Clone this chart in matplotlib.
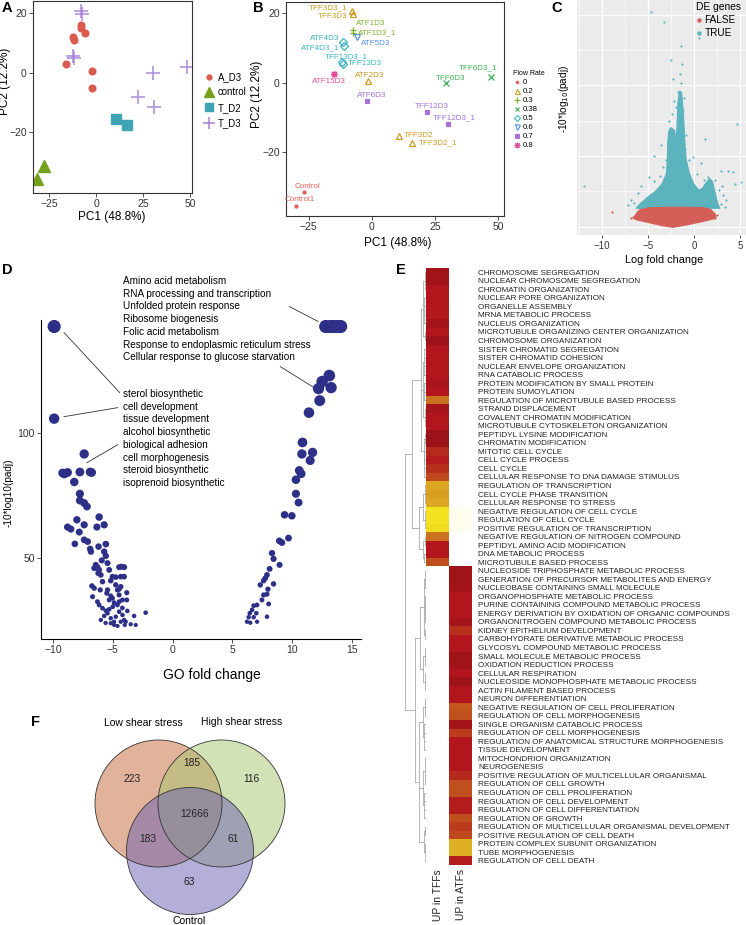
import numpy as np
import matplotlib.pyplot as plt
from matplotlib.colors import LinearSegmentedColormap
from matplotlib.lines import Line2D
from matplotlib.patches import Circle, Polygon

plt.rcParams['font.family'] = ['Liberation Sans', 'DejaVu Sans']

W, H = 746, 925
fig = plt.figure(figsize=(W / 100, H / 100), dpi=100)


def px_axes(x0, y0, x1, y1):
    return fig.add_axes([x0 / W, 1 - y1 / H, (x1 - x0) / W, (y1 - y0) / H])


# ---------------- data: panel A (PCA by group) ----------------
a_d3_pc1 = [-7.9, -7.9, -6.1, -12.2, -11.7, -15.7, -2.0, -2.2]
a_d3_pc2 = [15.9, 14.8, 13.2, 12.1, 10.8, 2.8, 0.6, -5.0]
control_pc1 = [-27.4, -31.5]
control_pc2 = [-31.3, -35.6]
t_d2_pc1 = [10.7, 16.3]
t_d2_pc2 = [-15.6, -17.6]
t_d3_pc1 = [-7.9, -7.6, -12.2, -11.7, 30.2, 48.5, 22.4, 30.9]
t_d3_pc2 = [20.6, 19.7, 5.6, 5.0, 0.0, 2.0, -8.3, -11.4]

# ---------------- data: panel B (PCA by sample) ----------------
samples = ['TFF3D3_1', 'TFF3D3', 'ATF1D3', 'ATF1D3_1', 'ATF5D3', 'ATF4D3', 'ATF4D3_1',
           'TFF13D3_1', 'TFF13D3', 'ATF15D3', 'ATF2D3', 'ATF6D3', 'TFF6D3', 'TFF6D3_1',
           'TFF12D3', 'TFF12D3_1', 'TFF3D2', 'TFF3D2_1', 'Control', 'Control1']
sample_pc1 = [-7.8, -7.6, -7.5, -7.5, -5.7, -11.3, -10.8, -11.7, -11.3, -14.9, -1.6, -1.8,
              29.4, 47.0, 22.0, 30.2, 10.8, 15.8, -26.8, -30.0]
sample_pc2 = [20.6, 19.7, 15.2, 14.2, 13.0, 11.8, 10.4, 6.0, 5.3, 2.5, 0.5, -5.2,
              -0.2, 1.7, -8.4, -11.9, -15.5, -17.5, -31.5, -35.5]
sample_flow = [0.2, 0.2, 0.3, 0.3, 0.6, 0.5, 0.5, 0.5, 0.5, 0.8, 0.2, 0.7,
               0.38, 0.38, 0.7, 0.7, 0.2, 0.2, 0, 0]
flow_levels = [0, 0.2, 0.3, 0.38, 0.5, 0.6, 0.7, 0.8]
# label placement: (ha, dx px, dy px)
label_place = [('right', -5, 3), ('right', -5, -2), ('left', 3, 6), ('left', 5, 1),
               ('left', 4, -6), ('right', -4, 3), ('right', -5, -1), ('center', 4, 5),
               ('left', 5, 1), ('center', -5, -8), ('center', 2, 5), ('center', 4, 5),
               ('center', 4, 5), ('center', -13, 9), ('center', 4, 5), ('center', 6, 6),
               ('left', 5, 1), ('left', 7, 1), ('center', 4, 6), ('center', 4, 6)]

# ---------------- data: panel C (volcano) ----------------
false_cloud_x = [-6.6, -6.2, -5.9, -5.0, -3.0, -1.0, 1.0, 1.8, 2.3, 2.4, 1.5, 0.5,
                 -1.0, -2.3, -3.5, -5.0, -6.2]
false_cloud_y = [12, 20, 24, 26.5, 27.5, 27.5, 27, 24.5, 18, 12, 9, 6, 2, -1, 1.5, 6, 9.5]
true_cloud_x = [-6.3, -5.8, -5.0, -4.2, -3.5, -3.0, -2.9, -2.85, -2.75, -2.5, -2.1, -2.0,
                -1.85, -1.75, -1.6, -1.35, -1.15, -1.0, -0.85, -0.5, 0.0, 0.5, 0.9, 1.3,
                1.7, 2.0, 2.3, 2.6, 2.8]
true_cloud_y = [26, 33, 42, 50, 60, 75, 95, 120, 135, 140, 136, 120, 140, 175, 192, 190,
                160, 120, 95, 75, 60, 52, 54, 62, 68, 64, 48, 32, 26]
true_x = [-4.67, -3.27, -1.43, 0.59, -2.46, -2.28, -1.47, -1.43, 4.7, 1.21, -3.57, -4.38,
          -0.07, 2.9, 3.68, 4.2, -11.95, 5.15, 4.4, -6.1, -5.8, -4.3, -1.9, -1.6, -1.2,
          -2.0, -1.75, -2.6, -0.9, -1.0, -3.1, -3.4, -0.5, 0.8, 1.5, 2.3, 2.7, 3.2, 3.5,
          2.9, -5.2, -6.5, -4.9, -3.7, 1.9, -2.7, -2.4, -1.35, 0.3, 1.1, -6.9, -7.2,
          3.0, 3.4, -2.2, -1.1]
true_y = [304, 289, 256, 267, 236, 209, 216, 204, 146, 124, 115, 100, 99, 79, 79, 78,
          57, 63, 61, 48, 57, 64, 150, 160, 165, 170, 190, 140, 130, 110, 95, 84, 95,
          90, 70, 66, 52, 45, 38, 32, 40, 34, 70, 72, 45, 150, 160, 230, 75, 66, 38, 30,
          58, 28, 178, 182]
false_x = [-8.9, -6.8, -6.6, 2.5, 2.3]
false_y = [21.2, 12, 14, 16, 12]

# ---------------- data: panel D (GO fold change) ----------------
go_fc = [12.8, 13.2, 13.5, 13.8, 14.05, 13.1, 12.5, 12.2, 13.25, 12.3, 11.4,
         10.86, 10.81, 11.7, 11.5, 10.59, 10.75, 10.31, 10.31, 10.53, 9.36, 9.97, 8.92,
         9.14, 9.69, 8.31, 8.44, 8.94, 8.11, 7.89, 7.75, 7.61, 7.33, 8.44, 7.97, 7.61,
         7.89, 7.47, 8.03, 7.06, 6.78, 6.64, 6.45, 6.36, 6.22, 6.5, 7.06, 6.78, 7.89, 7.0,
         -9.9, -9.9, -7.39, -9.19, -8.78, -9.05, -7.75, -6.89, -6.77, -8.22, -7.75, -7.75,
         -7.39, -7.16, -6.14, -8.0, -8.78, -8.5, -7.39, -7.8, -6.33, -5.72, -7.39, -8.17,
         -6.89, -6.19, -5.58, -7.1, -5.72, -6.83, -5.58, -5.92, -5.44, -6.42, -6.28, -6.55,
         -6.14, -5.3, -4.47, -4.05, -4.28, -6.22, -6.0, -5.03, -4.75, -4.33, -4.05, -5.86,
         -5.17, -4.75, -6.75, -6.55, -6.05, -4.33, -4.47, -5.44, -4.61, -3.83, -5.5, -6.69,
         -5.17, -5.03, -4.47, -6.28, -6.14, -5.86, -5.58, -5.3, -4.89, -4.61, -4.47, -4.19,
         -3.83, -5.44, -5.72, -5.17, -4.89, -6.0, -4.47, -4.19, -4.05, -3.92, -4.33, -4.75,
         -3.78, -3.22, -3.08, -2.25, -4.89, -5.17, -4.0, -5.0, -5.3, -4.2, -5.6, -4.6, -3.5]
go_score = [142.4, 142.4, 142.4, 142.4, 142.4, 122.8, 120.4, 117.6, 118, 112.8, 108,
            96.1, 91.5, 92.1, 88.9, 84.9, 83.6, 81.2, 75.6, 72.1, 67.2, 66.8, 56.8,
            56.1, 57.9, 51.9, 49.6, 47.2, 45.6, 43.2, 41.9, 40.9, 39.2, 39.6, 37.5, 35.2,
            35.5, 33.2, 31.6, 31.2, 30.9, 29.2, 27.9, 26.3, 24.5, 24.1, 24.5, 26.3, 26.5, 27.9,
            142.4, 105.6, 91.5, 83.9, 84.1, 83.5, 84.3, 84.3, 84.1, 80.3, 75.6, 72.9,
            71.9, 70.5, 66.3, 65.2, 62.3, 61.5, 63.2, 60.3, 62.3, 63.2, 57.2, 55.6,
            53.6, 54.5, 55.5, 56.5, 52.5, 52.5, 50.8, 49.0, 47.9, 47.2, 46.3, 45.9,
            45.2, 45.2, 46.3, 46.3, 46.5, 43.9, 43.2, 42.5, 42.3, 42.5, 42.5, 40.5,
            40.9, 39.2, 38.8, 37.9, 37.2, 38.5, 37.5, 37.2, 37.2, 36.1, 35.9, 34.5,
            34.8, 33.9, 35.2, 32.5, 31.2, 29.9, 28.9, 33.2, 32.1, 31.2, 32.5, 33.2,
            33.2, 27.9, 26.8, 25.9, 24.5, 25.2, 28.5, 27.2, 25.2, 24.5, 24.5, 26.5,
            28.8, 26.8, 23.2, 28.1, 23.2, 23.9, 23.2, 30.5, 29.5, 30.0, 24.0, 22.8, 23.5]
up_terms = ['Amino acid metabolism', 'RNA processing and transcription',
            'Unfolded protein response', 'Ribosome biogenesis', 'Folic acid metabolism',
            'Response to endoplasmic reticulum stress',
            'Cellular response to glucose starvation']
down_terms = ['sterol biosynthetic', 'cell development', 'tissue development',
              'alcohol biosynthetic', 'biological adhesion', 'cell morphogenesis',
              'steroid biosynthetic', 'isoprenoid biosynthetic']

# ---------------- data: panel E (GO heatmap) ----------------
go_terms = [
    'CHROMOSOME SEGREGATION', 'NUCLEAR CHROMOSOME SEGREGATION', 'CHROMATIN ORGANIZATION',
    'NUCLEAR PORE ORGANIZATION', 'ORGANELLE ASSEMBLY', 'MRNA METABOLIC PROCESS',
    'NUCLEUS ORGANIZATION', 'MICROTUBULE ORGANIZING CENTER ORGANIZATION',
    'CHROMOSOME ORGANIZATION', 'SISTER CHROMATID SEGREGATION', 'SISTER CHROMATID COHESION',
    'NUCLEAR ENVELOPE ORGANIZATION', 'RNA CATABOLIC PROCESS',
    'PROTEIN MODIFICATION BY SMALL PROTEIN', 'PROTEIN SUMOYLATION',
    'REGULATION OF MICROTUBULE BASED PROCESS', 'STRAND DISPLACEMENT',
    'COVALENT CHROMATIN MODIFICATION', 'MICROTUBULE CYTOSKELETON ORGANIZATION',
    'PEPTIDYL LYSINE MODIFICATION', 'CHROMATIN MODIFICATION', 'MITOTIC CELL CYCLE',
    'CELL CYCLE PROCESS', 'CELL CYCLE', 'CELLULAR RESPONSE TO DNA DAMAGE STIMULUS',
    'REGULATION OF TRANSCRIPTION', 'CELL CYCLE PHASE TRANSITION',
    'CELLULAR RESPONSE TO STRESS', 'NEGATIVE REGULATION OF CELL CYCLE',
    'REGULATION OF CELL CYCLE', 'POSITIVE REGULATION OF TRANSCRIPTION',
    'NEGATIVE REGULATION OF NITROGEN COMPOUND', 'PEPTIDYL AMINO ACID MODIFICATION',
    'DNA METABOLIC PROCESS', 'MICROTUBULE BASED PROCESS',
    'NUCLEOSIDE TRIPHOSPHATE METABOLIC PROCESS',
    'GENERATION OF PRECURSOR METABOLITES AND ENERGY', 'NUCLEOBASE CONTAINING SMALL MOLECULE',
    'ORGANOPHOSPHATE METABOLIC PROCESS', 'PURINE CONTAINING COMPOUND METABOLIC PROCESS',
    'ENERGY DERIVATION BY OXIDATION OF ORGANIC COMPOUNDS',
    'ORGANONITROGEN COMPOUND METABOLIC PROCESS', 'KIDNEY EPITHELIUM DEVELOPMENT',
    'CARBOHYDRATE DERIVATIVE METABOLIC PROCESS', 'GLYCOSYL COMPOUND METABOLIC PROCESS',
    'SMALL MOLECULE METABOLIC PROCESS', 'OXIDATION REDUCTION PROCESS', 'CELLULAR RESPIRATION',
    'NUCLEOSIDE MONOPHOSPHATE METABOLIC PROCESS', 'ACTIN FILAMENT BASED PROCESS',
    'NEURON DIFFERENTIATION', 'NEGATIVE REGULATION OF CELL PROLIFERATION',
    'REGULATION OF CELL MORPHOGENESIS', 'SINGLE ORGANISM CATABOLIC PROCESS',
    'REGULATION OF CELL MORPHOGENESIS', 'REGULATION OF ANATOMICAL STRUCTURE MORPHOGENESIS',
    'TISSUE DEVELOPMENT', 'MITOCHONDRION ORGANIZATION', 'NEUROGENESIS',
    'POSITIVE REGULATION OF MULTICELLULAR ORGANISMAL', 'REGULATION OF CELL GROWTH',
    'REGULATION OF CELL PROLIFERATION', 'REGULATION OF CELL DEVELOPMENT',
    'REGULATION OF CELL DIFFERENTIATION', 'REGULATION OF GROWTH',
    'REGULATION OF MULTICELLULAR ORGANISMAL DEVELOPMENT', 'POSITIVE REGULATION OF CELL DEATH',
    'PROTEIN COMPLEX SUBUNIT ORGANIZATION', 'TUBE MORPHOGENESIS', 'REGULATION OF CELL DEATH']
nan = np.nan
up_in_tffs = [0.95, 0.95, 0.88, 0.88, 0.88, 0.87, 0.93, 0.88, 0.96, 0.88, 0.88, 0.88,
              0.88, 0.92, 0.88, 0.6, 0.93, 0.88, 0.88, 0.97, 0.97, 0.82, 0.86, 0.8, 0.72,
              0.42, 0.45, 0.42, 0.18, 0.18, 0.22, 0.6, 0.88, 0.88, 0.7] + [nan] * 35
up_in_atfs = [nan] * 28 + [0.0, 0.0, 0.0] + [nan] * 4 + [
    0.95, 0.95, 0.93, 0.88, 0.88, 0.88, 0.93, 0.8, 0.88, 0.88, 0.95, 0.95, 0.88, 0.96,
    0.88, 0.88, 0.68, 0.7, 0.93, 0.76, 0.88, 0.88, 0.88, 0.88, 0.82, 0.7, 0.7, 0.86,
    0.86, 0.7, 0.76, 0.72, 0.38, 0.38, 0.86]
heat_columns = ['UP in TFFs', 'UP in ATFs']
# row dendrogram: (height, children), leaves are row indices
tff_tree = (0.6, [
    (0.2, [(0.12, [(0.06, [0, 1, 2]), (0.08, [3, 4, 5, 6]), (0.05, [7, 8])]),
           (0.14, [(0.07, [9, 10, 11, 12]), (0.09, [13, 14, 15]), (0.06, [16, 17, 18])]),
           (0.1, [(0.05, [19, 20]), (0.07, [21, 22, 23, 24])])]),
    (0.3, [(0.12, [(0.05, [25, 26, 27]), (0.06, [28, 29, 30])]),
           (0.15, [(0.05, [31, 32]), (0.07, [33, 34])])])])
atf_tree = (0.5, [
    (0.25, [(0.1, [(0.05, [35, 36, 37]), (0.06, [38, 39, 40, 41]), (0.05, [42, 43])]),
            (0.12, [(0.06, [44, 45, 46]), (0.05, [47, 48, 49])])]),
    (0.3, [(0.12, [(0.05, [50, 51, 52]), (0.07, [53, 54, 55, 56])]),
           (0.14, [(0.06, [57, 58, 59, 60]), (0.08, [61, 62, 63, 64])]),
           (0.1, [(0.05, [65, 66]), (0.06, [67, 68, 69])])])])
row_tree = (0.92, [tff_tree, atf_tree])

# ---------------- data: panel F (Venn) ----------------
venn_sets = ['Low shear stress', 'High shear stress', 'Control']
venn_counts = {'low': 223, 'high': 116, 'ctrl': 63, 'low_high': 185, 'low_ctrl': 183,
               'high_ctrl': 61, 'all': 12666}

# =============== Panel A ===============
axA = px_axes(33, 1, 192, 193)
axA.plot(a_d3_pc1, a_d3_pc2, 'o', color='#D95B50', ms=4.8, ls='none')
axA.plot(control_pc1, control_pc2, '^', color='#74A21E', ms=9, ls='none')
axA.plot(t_d2_pc1, t_d2_pc2, 's', color='#3EA3B3', ms=7.5, ls='none')
axA.plot(t_d3_pc1, t_d3_pc2, '+', color='#A57FD8', ms=10, mew=1.2, ls='none', alpha=0.85)
axA.set_xlim(-33.5, 51)
axA.set_ylim(-40.3, 24)
axA.set_xticks([-25, 0, 25, 50])
axA.set_yticks([-20, 0, 20])
axA.set_xlabel('PC1 (48.8%)', fontsize=8.5)
axA.set_ylabel('PC2 (12.2%)', fontsize=8.5)
axA.xaxis.set_label_coords(0.497, -0.095)
axA.yaxis.set_label_coords(-0.14, 0.58)
handlesA = [Line2D([], [], marker='o', color='#D95B50', ms=3.5, ls='none'),
            Line2D([], [], marker='^', color='#74A21E', ms=7, ls='none'),
            Line2D([], [], marker='s', color='#3EA3B3', ms=6, ls='none'),
            Line2D([], [], marker='+', color='#A57FD8', ms=8, mew=1.1, ls='none')]
fig.legend(handlesA, ['A_D3', 'control', 'T_D2', 'T_D3'], loc='center left',
           bbox_to_anchor=(196 / W, 1 - 100 / H), frameon=False, fontsize=6.9,
           handlelength=1.0, handletextpad=0.4, labelspacing=0.55)

# =============== Panel B ===============
flow_colors = ['#E0625A', '#C99A22', '#7FAE2A', '#3DAE57', '#3AB5C0', '#4F93E6',
               '#A374D6', '#E0509F']
flow_markers = ['o', '^', '+', 'x', 'D', 'v', 's', (8, 2, 0)]
flow_ms = [2.2, 4.5, 5, 4, 3.8, 4.5, 3.5, 5]
flow_open = [False, True, False, False, True, True, False, False]

axB = px_axes(286, 2, 504, 216)
for i, name in enumerate(samples):
    k = flow_levels.index(sample_flow[i])
    c = flow_colors[k]
    axB.plot(sample_pc1[i], sample_pc2[i], marker=flow_markers[k], ms=flow_ms[k],
             mec=c, mfc='none' if flow_open[k] else c, mew=0.9, ls='none')
    ha, dx, dy = label_place[i]
    axB.annotate(name, (sample_pc1[i], sample_pc2[i]), xytext=(dx * 0.72, dy * 0.72),
                 textcoords='offset points', ha=ha, va='center', fontsize=5.8, color=c)
axB.set_xlim(-33.9, 52.3)
axB.set_ylim(-38.4, 23.2)
axB.set_xticks([-25, 0, 25, 50])
axB.set_yticks([-20, 0, 20])
axB.set_xlabel('PC1 (48.8%)', fontsize=8.5)
axB.set_ylabel('PC2 (12.2%)', fontsize=8.5)
axB.xaxis.set_label_coords(0.514, -0.1)
axB.yaxis.set_label_coords(-0.105, 0.57)
handlesB = [Line2D([], [], marker=flow_markers[k], ms=flow_ms[k] * 0.8, mec=flow_colors[k],
                   mfc='none' if flow_open[k] else flow_colors[k], mew=0.8, ls='none')
            for k in range(len(flow_levels))]
legB = fig.legend(handlesB, [str(v) for v in flow_levels], title='Flow Rate',
                  loc='upper left', bbox_to_anchor=(508 / W, 1 - 65 / H), frameon=False,
                  fontsize=5.6, title_fontsize=5.0, handlelength=0.8, handletextpad=0.4,
                  labelspacing=0.2, borderpad=0.2)
legB._legend_box.align = 'left'

for ax in (axA, axB):
    for s in ax.spines.values():
        s.set_color('#333333')
        s.set_linewidth(0.8)
    ax.tick_params(labelsize=7.5, length=3, width=0.6, colors='#333333', pad=1.5)

# =============== Panel C ===============
axC = px_axes(577, 0, 746, 235)
axC.set_facecolor('#EBEBEB')
axC.add_patch(Polygon(np.column_stack([true_cloud_x, true_cloud_y]), closed=True,
                      fc='#5BB3BD', ec='#5BB3BD', lw=0.8, zorder=2))
axC.add_patch(Polygon(np.column_stack([false_cloud_x, false_cloud_y]), closed=True,
                      fc='#D45F58', ec='#D45F58', lw=0.8, zorder=3))
axC.scatter(true_x, true_y, s=2.5, color='#5BB3BD', lw=0, zorder=2)
axC.scatter(false_x, false_y, s=2.5, color='#D45F58', lw=0, zorder=3)
axC.set_xlim(-12.72, 5.65)
axC.set_ylim(-11.8, 320.8)
axC.set_xticks([-10, -5, 0, 5])
axC.set_xticks([-12.5, -7.5, -2.5, 2.5], minor=True)
axC.set_yticks([0, 100, 200, 300])
axC.set_yticks([50, 150, 250], minor=True)
axC.set_yticklabels([])
axC.grid(True, which='major', color='white', lw=0.9)
axC.grid(True, which='minor', color='white', lw=0.45)
axC.set_axisbelow(True)
for s in axC.spines.values():
    s.set_visible(False)
axC.tick_params(axis='x', which='major', labelsize=7, length=2.5, width=0.6,
                colors='#333333', pad=2)
axC.tick_params(axis='y', which='major', length=0)
axC.tick_params(which='minor', length=0)
axC.set_xlabel('Log fold change', fontsize=7.8)
axC.set_ylabel('-10*log$_{10}$(padj)', fontsize=7.2)
axC.xaxis.set_label_coords(0.515, -0.087)
axC.yaxis.set_label_coords(-0.036, 0.58)
handlesC = [Line2D([], [], marker='o', color='#D45F58', ms=2.2, ls='none'),
            Line2D([], [], marker='o', color='#5BB3BD', ms=2.2, ls='none')]
legC = axC.legend(handlesC, ['FALSE', 'TRUE'], title='DE genes', loc='upper right',
                  bbox_to_anchor=(1.01, 1.02), frameon=False, fontsize=7.2,
                  title_fontsize=7.4, handlelength=0.6, handletextpad=0.3,
                  labelspacing=0.3, borderpad=0.2)
legC._legend_box.align = 'left'

# =============== Panel D ===============
axD = px_axes(41, 320, 361, 639)
go_score_arr = np.array(go_score)
dot_px = 0.075 * go_score_arr + 2.5
axD.scatter(go_fc, go_score, s=(dot_px * 0.72) ** 2, color='#2E3087', lw=0, zorder=3)
axD.set_xlim(-11, 15.75)
axD.set_ylim(17.6, 145)
axD.set_xticks([-10, -5, 0, 5, 10, 15])
axD.set_yticks([50, 100])
for side in ('top', 'right'):
    axD.spines[side].set_visible(False)
for side in ('left', 'bottom'):
    axD.spines[side].set_linewidth(0.8)
axD.tick_params(labelsize=7.5, length=3, width=0.6, colors='#333333', pad=1.5)
axD.set_xlabel('GO fold change', fontsize=10)
axD.set_ylabel('-10*log10(padj)', fontsize=7.2)
axD.xaxis.set_label_coords(0.534, -0.091)
axD.yaxis.set_label_coords(-0.086, 0.458)
for i, t in enumerate(up_terms):
    fig.text(123 / W, 1 - (281 + 12.7 * i) / H, t, fontsize=7.2, va='center', ha='left')
for i, t in enumerate(down_terms):
    fig.text(123 / W, 1 - (394 + 12.7 * i) / H, t, fontsize=7.2, va='center', ha='left')
connectors = [((9.75, 150.4), (12.17, 144.4)), ((9.0, 126.4), (12.5, 116.0)),
              ((-9.08, 140.0), (-4.42, 116.0)), ((-9.08, 106.4), (-4.58, 110.0)),
              ((-7.17, 88.0), (-4.58, 95.2))]
for (x0, y0), (x1, y1) in connectors:
    axD.plot([x0, x1], [y0, y1], color='#333333', lw=0.6, clip_on=False, zorder=2)

# =============== Panel E ===============
heat_cmap = LinearSegmentedColormap.from_list('heat', [
    (0.0, '#FFFDEE'), (0.12, '#F5EE20'), (0.25, '#EFD51E'), (0.42, '#DBA622'),
    (0.6, '#CB7220'), (0.72, '#BE4A1E'), (0.82, '#B52A1C'), (0.88, '#B3161C'),
    (1.0, '#941318')])
heat_cmap.set_bad('white')
axE = px_axes(426, 268, 472, 865)
heat = np.ma.masked_invalid(np.column_stack([up_in_tffs, up_in_atfs]))
axE.imshow(heat, aspect='auto', cmap=heat_cmap, vmin=0, vmax=1, interpolation='nearest')
axE.set_xticks([0, 1])
axE.set_xticklabels(heat_columns, rotation=90, fontsize=7.4, va='top')
axE.yaxis.tick_right()
axE.set_yticks(range(len(go_terms)))
axE.set_yticklabels(go_terms, fontsize=5.9)
axE.tick_params(length=0, pad=4.3, colors='#222222')
axE.tick_params(axis='x', pad=3)
for s in axE.spines.values():
    s.set_visible(False)

axT = px_axes(402, 268, 426, 865)


def draw_node(node):
    if isinstance(node, int):
        return float(node), 0.0
    h, kids = node
    pos = [draw_node(k) for k in kids]
    ys = [p[0] for p in pos]
    for y, hk in pos:
        axT.plot([hk, h], [y, y], color='#9A9A9A', lw=0.5)
    axT.plot([h, h], [min(ys), max(ys)], color='#9A9A9A', lw=0.5)
    return (min(ys) + max(ys)) / 2, h


draw_node(row_tree)
axT.set_xlim(1.05, 0)
axT.set_ylim(len(go_terms) - 0.5, -0.5)
axT.axis('off')

# =============== Panel F ===============
axF = px_axes(0, 690, 400, 925)
axF.set_xlim(0, 400)
axF.set_ylim(925, 690)
axF.axis('off')
circles = [((158.5, 803.5), '#C56939'), ((221.5, 803.5), '#A9C571'), ((190, 851), '#6B61B3')]
for (cx, cy), col in circles:
    axF.add_patch(Circle((cx, cy), 63.5, fc=col, alpha=0.5, ec='none'))
for (cx, cy), col in circles:
    axF.add_patch(Circle((cx, cy), 63.5, fill=False, ec='#333333', lw=0.6))
count_pos = {'low': (132, 779), 'high': (251, 779), 'ctrl': (189, 882),
             'low_high': (192, 763), 'low_ctrl': (148, 839), 'high_ctrl': (233, 839),
             'all': (195, 814)}
for key, val in venn_counts.items():
    x, y = count_pos[key]
    axF.text(x, y, str(val), fontsize=7.4, ha='center', va='center', color='#222222')
axF.text(143, 723, venn_sets[0], fontsize=7.5, ha='center', va='center')
axF.text(242, 722, venn_sets[1], fontsize=7.5, ha='center', va='center')
axF.text(189, 921, venn_sets[2], fontsize=7.5, ha='center', va='center')

# panel letters
for letter, (x, y) in {'A': (2, 8), 'B': (253, 8), 'C': (551, 8), 'D': (2, 270),
                       'E': (396, 270), 'F': (31, 722)}.items():
    fig.text(x / W, 1 - y / H, letter, fontsize=10.5, fontweight='bold',
             ha='left', va='center')

fig.savefig('out.png', dpi=100)
